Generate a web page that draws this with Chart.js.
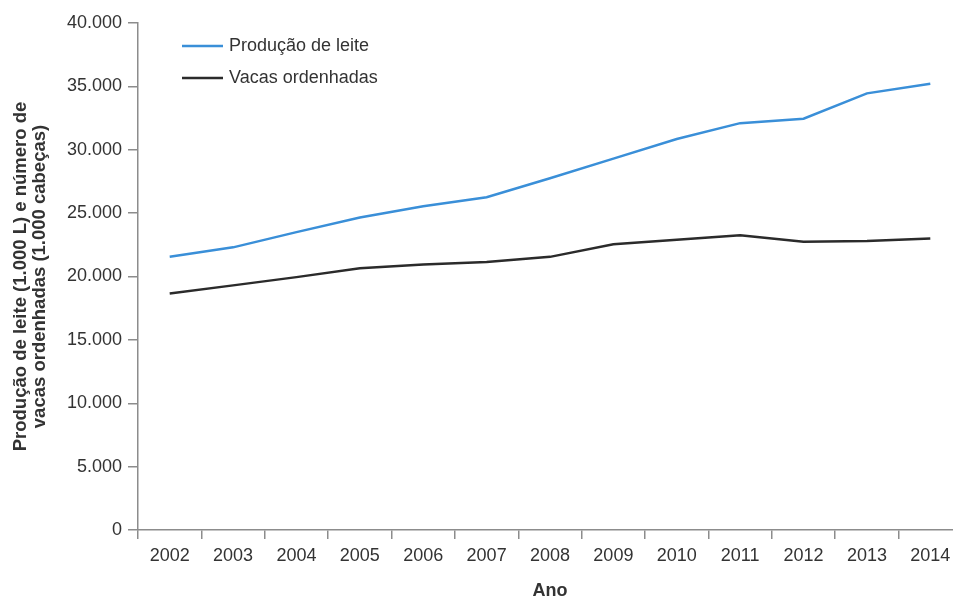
<!DOCTYPE html>
<html lang="pt">
<head>
    <meta charset="UTF-8">
    <title>Produção de leite e vacas ordenhadas</title>
    <style>
        html, body {
            margin: 0;
            padding: 0;
            background: #fff;
            overflow: hidden;
        }
        canvas {
            display: block;
        }
    </style>
</head>
<body>
    <canvas id="chart" width="964" height="602"></canvas>
    <script src="https://cdn.jsdelivr.net/npm/chart.js"></script>
    <script>
        const years = ['2002', '2003', '2004', '2005', '2006', '2007', '2008',
                       '2009', '2010', '2011', '2012', '2013', '2014'];
        const milkProduction = [21550, 22300, 23500, 24650, 25550, 26250, 27750,
                                29300, 30850, 32100, 32450, 34450, 35200];
        const milkedCows = [18650, 19300, 19950, 20650, 20950, 21150, 21550,
                            22550, 22900, 23250, 22750, 22800, 23000];
        const yTitle = ['Produção de leite (1.000 L) e número de', 'vacas ordenhadas (1.000 cabeças)'];
        const xTitle = 'Ano';

        const axisColor = '#8c8c8c';
        const textColor = '#333';
        const fontFamily = '"Liberation Sans", Arial, sans-serif';

        // legend drawn inside the plot, top-left
        const insideLegend = {
            id: 'insideLegend',
            afterDraw(chart) {
                const ctx = chart.ctx;
                const x0 = chart.chartArea.left + 44;
                const y0 = chart.chartArea.top + 23;
                ctx.save();
                ctx.font = '18px ' + fontFamily;
                ctx.textBaseline = 'middle';
                chart.data.datasets.forEach((ds, i) => {
                    const y = y0 + i * 32;
                    ctx.strokeStyle = ds.borderColor;
                    ctx.lineWidth = 2.5;
                    ctx.beginPath();
                    ctx.moveTo(x0, y);
                    ctx.lineTo(x0 + 41, y);
                    ctx.stroke();
                    ctx.fillStyle = textColor;
                    ctx.fillText(ds.label, x0 + 47, y);
                });
                ctx.restore();
            }
        };

        new Chart(document.getElementById('chart'), {
            type: 'line',
            data: {
                labels: years,
                datasets: [
                    {
                        label: 'Produção de leite',
                        data: milkProduction,
                        borderColor: '#3a8fd8',
                        borderWidth: 2.5,
                        pointRadius: 0,
                        tension: 0
                    },
                    {
                        label: 'Vacas ordenhadas',
                        data: milkedCows,
                        borderColor: '#2b2b2b',
                        borderWidth: 2.5,
                        pointRadius: 0,
                        tension: 0
                    }
                ]
            },
            options: {
                responsive: false,
                animation: false,
                layout: { padding: { top: 23, right: 2, left: 11, bottom: 0 } },
                plugins: {
                    legend: { display: false },
                    tooltip: { enabled: false }
                },
                scales: {
                    x: {
                        offset: true,
                        border: { color: axisColor, width: 1.5 },
                        grid: {
                            offset: true,
                            drawOnChartArea: false,
                            color: axisColor,
                            tickLength: 9,
                            lineWidth: 1.5
                        },
                        ticks: {
                            color: textColor,
                            padding: 6,
                            maxRotation: 0,
                            font: { family: fontFamily, size: 18 }
                        },
                        title: {
                            display: true,
                            text: xTitle,
                            color: textColor,
                            padding: { top: 12, bottom: 0 },
                            font: { family: fontFamily, size: 18, weight: 'bold' }
                        },
                        afterFit(scale) { scale.height = 72; }
                    },
                    y: {
                        min: 0,
                        max: 40000,
                        border: { color: axisColor, width: 1.5 },
                        grid: {
                            drawOnChartArea: false,
                            color: axisColor,
                            tickLength: 10,
                            lineWidth: 1.5
                        },
                        ticks: {
                            stepSize: 5000,
                            color: textColor,
                            padding: 6,
                            font: { family: fontFamily, size: 18 },
                            callback: v => v.toLocaleString('pt-BR')
                        },
                        title: {
                            display: true,
                            text: yTitle,
                            color: textColor,
                            padding: { top: 0, bottom: 6 },
                            font: { family: fontFamily, size: 18.5, weight: 'bold', lineHeight: 1.05 }
                        },
                        afterFit(scale) { scale.width = 127; }
                    }
                }
            },
            plugins: [insideLegend]
        });
    </script>
</body>
</html>
